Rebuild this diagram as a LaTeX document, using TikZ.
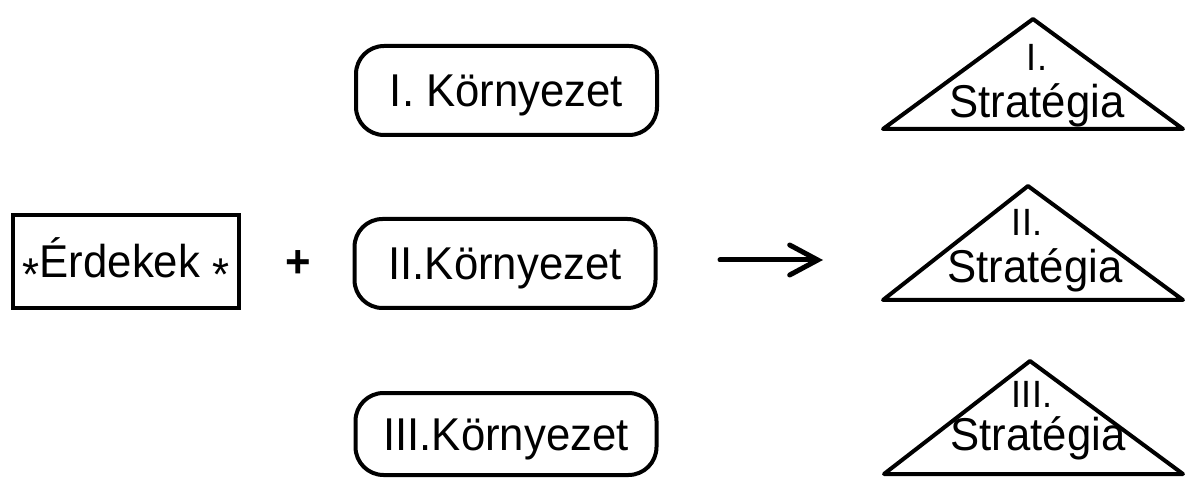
\documentclass[tikz,border=0pt]{standalone}
\usepackage{fontspec}
\setmainfont{Liberation Sans}[FakeStretch=0.95]
\usetikzlibrary{arrows.meta}
\begin{document}
\begin{tikzpicture}[x=1pt,y=-1pt,
  bigfont/.style={font=\fontsize{46}{52}\selectfont},
  lbl/.style={bigfont, inner sep=0pt},
  stratlbl/.style={bigfont, inner sep=0pt, text height=34pt, text depth=9pt},
  numlbl/.style={font=\fontsize{38}{44}\selectfont, inner sep=0pt, text height=28pt, text depth=0pt},
  envbox/.style={draw, line width=4pt, rounded corners=28pt, minimum width=301pt,
    minimum height=89pt, inner sep=0pt, text height=33pt, text depth=0pt, bigfont},
  interestbox/.style={draw, line width=4pt, minimum width=226pt, minimum height=93pt,
    inner sep=0pt, text height=33pt, text depth=0pt, bigfont},
  tri/.style={draw, line width=4pt, line join=round},
  arrowline/.style={line width=5pt, line cap=round,
    -{Straight Barb[length=28pt,width=30pt,line cap=round]}},
]
\useasboundingbox (0,0) rectangle (1186,478);

% left box
\node[interestbox] (erd) at (126,261.5) {\raisebox{-0.27em}{*}Érdekek \raisebox{-0.27em}{*}};

% plus
\node[lbl, font=\fontsize{46}{52}\selectfont\bfseries] (plus) at (298,264) {+};

% environment boxes
\node[envbox] (env1) at (506.5,90.5) {I. Környezet};
\node[envbox] (env2) at (505,263.5) {II.Környezet};
\node[envbox, minimum height=82pt] (env3) at (506,434) {III.Környezet};

% arrow
\coordinate (a1) at (720,260);
\coordinate (a2) at (823,260);
\draw[arrowline] (a1) -- (a2);

% triangles
\coordinate (t1l) at (883,129); \coordinate (t1t) at (1033,19); \coordinate (t1r) at (1183,129);
\coordinate (t2l) at (883,300); \coordinate (t2t) at (1028,186); \coordinate (t2r) at (1183,300);
\coordinate (t3l) at (884,474); \coordinate (t3t) at (1030,361); \coordinate (t3r) at (1183,474);
\draw[tri] (t1l) -- (t1t) -- (t1r) -- cycle;
\draw[tri] (t2l) -- (t2t) -- (t2r) -- cycle;
\draw[tri] (t3l) -- (t3t) -- (t3r) -- cycle;

% triangle texts
\node[numlbl, anchor=base] (s1n) at (1037,71) {I.};
\node[stratlbl, anchor=base] (s1) at (1037,118) {Stratégia};
\node[numlbl, anchor=base] (s2n) at (1027,236) {II.};
\node[stratlbl, anchor=base] (s2) at (1035,283) {Stratégia};
\node[numlbl, anchor=base] (s3n) at (1032,407) {III.};
\node[stratlbl, anchor=base] (s3) at (1038,450) {Stratégia};
\end{tikzpicture}
\end{document}
